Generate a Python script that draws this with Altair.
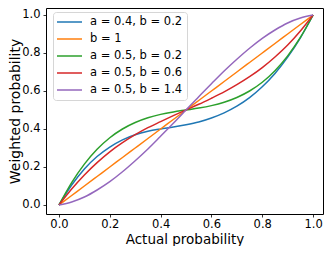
import altair as alt
import pandas as pd

p = [0.0, 0.05, 0.1, 0.15, 0.2, 0.25, 0.3, 0.35, 0.4, 0.45, 0.5,
     0.55, 0.6, 0.65, 0.7, 0.75, 0.8, 0.85, 0.9, 0.95, 1.0]

labels = ["a = 0.4, b = 0.2", "b = 1", "a = 0.5, b = 0.2", "a = 0.5, b = 0.6", "a = 0.5, b = 1.4"]
colors = ["#1f77b4", "#ff7f0e", "#2ca02c", "#d62728", "#9467bd"]

blue = [0.0, 0.105, 0.19, 0.255, 0.305, 0.343, 0.37, 0.388, 0.4, 0.41, 0.422,
        0.437, 0.458, 0.485, 0.52, 0.565, 0.622, 0.692, 0.778, 0.88, 1.0]
orange = [0.0, 0.05, 0.1, 0.15, 0.2, 0.25, 0.3, 0.35, 0.4, 0.45, 0.5,
          0.55, 0.6, 0.65, 0.7, 0.75, 0.8, 0.85, 0.9, 0.95, 1.0]
green = [0.0, 0.118, 0.215, 0.293, 0.354, 0.4, 0.434, 0.459, 0.477, 0.49, 0.5,
         0.51, 0.523, 0.541, 0.566, 0.6, 0.646, 0.707, 0.785, 0.882, 1.0]
red = [0.0, 0.084, 0.158, 0.223, 0.28, 0.328, 0.37, 0.407, 0.439, 0.47, 0.5,
       0.53, 0.562, 0.595, 0.633, 0.675, 0.723, 0.779, 0.842, 0.916, 1.0]
purple = [0.0, 0.016, 0.042, 0.079, 0.123, 0.175, 0.233, 0.295, 0.362, 0.43, 0.5,
          0.57, 0.638, 0.705, 0.767, 0.825, 0.877, 0.921, 0.958, 0.984, 1.0]

tick_values = [0.0, 0.2, 0.4, 0.6, 0.8, 1.0]

rows = []
for lab, ys in zip(labels, [blue, orange, green, red, purple]):
    for xv, yv in zip(p, ys):
        rows.append({"p": xv, "w": yv, "series": lab})
df = pd.DataFrame(rows)

FONT = "DejaVu Sans"

chart = alt.Chart(df).mark_line(strokeWidth=1.5, interpolate="monotone").encode(
    x=alt.X("p:Q",
            scale=alt.Scale(domain=[-0.051, 1.039], nice=False, zero=False),
            axis=alt.Axis(values=tick_values, format=".1f", title="Actual probability",
                          labelPadding=1.5, titlePadding=2, titleFontSize=13.5)),
    y=alt.Y("w:Q",
            scale=alt.Scale(domain=[-0.0474, 1.0368], nice=False, zero=False),
            axis=alt.Axis(values=tick_values, format=".1f", title="Weighted probability",
                          titlePadding=-1)),
    color=alt.Color("series:N",
                    scale=alt.Scale(domain=labels, range=colors),
                    sort=labels,
                    legend=alt.Legend(title=None, orient="none", legendX=7, legendY=4,
                                      symbolType="M-2.5,0H2.5", symbolSize=100,
                                      symbolStrokeWidth=1.5, symbolOffset=6.5,
                                      labelFontSize=11.5,
                                      labelFont=FONT, labelColor="black",
                                      labelOffset=14.5, rowPadding=5, padding=4,
                                      cornerRadius=3, strokeColor="#d6d6d6",
                                      fillColor="white", zindex=1)),
    order=alt.Order("p:Q"),
).properties(
    width=277, height=206,
    padding={"left": 38, "top": 0, "right": 1, "bottom": 32},
    autosize=alt.AutoSizeParams(type="none"),
).configure_view(
    stroke="black", strokeWidth=1
).configure_axis(
    grid=False, domain=False, ticks=True, tickSize=3, tickWidth=0.8, tickColor="black",
    labelFont=FONT, labelFontSize=11.5, labelColor="black", labelPadding=3,
    titleFont=FONT, titleFontSize=14, titleFontWeight="normal", titleColor="black"
)

chart.save("out.html", embed_options={"renderer": "svg", "actions": False})
